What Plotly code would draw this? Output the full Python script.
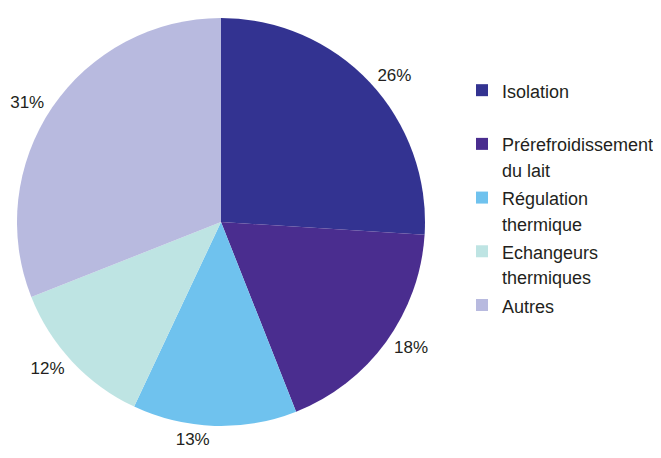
import plotly.graph_objects as go

labels = ["Isolation", "Prérefroidissement\ndu lait", "Régulation\nthermique",
          "Echangeurs\nthermiques", "Autres"]
values = [26, 18, 13, 12, 31]
colors = ["#333391", "#4A2D8F", "#6FC2EE", "#BEE4E3", "#B8BADF"]

W, H = 661, 458
OFF = 8  # page body margin in the browser
cx, cy, r = 221 - OFF, 222 - OFF, 204
r_text = 208  # radius of the invisible pie carrying the percentage labels

legend_font = 18
legend_line = 19.5  # controls line height / item pitch


def legend_label(s):
    lines = s.split("\n")
    if len(lines) == 1:
        lines.append(" ")
    return "<br>".join(f"<span style='font-size:{legend_font}px'>{ln}</span>" for ln in lines)


def dom(rad):
    return dict(x=[max(0, (cx - rad) / W), min(1, (cx + rad) / W)],
                y=[max(0, (H - cy - rad) / H), min(1, (H - cy + rad) / H)])


leg_labels = [legend_label(s) for s in labels]

fig = go.Figure()
fig.add_trace(go.Pie(
    labels=leg_labels,
    values=values,
    sort=False,
    direction="clockwise",
    rotation=0,
    marker=dict(colors=colors, line=dict(width=0)),
    textinfo="none",
    domain=dom(r),
    automargin=False,
    hoverinfo="value",
))
fig.add_trace(go.Pie(
    labels=leg_labels,
    values=values,
    sort=False,
    direction="clockwise",
    rotation=0,
    marker=dict(colors=["rgba(0,0,0,0)"] * len(values), line=dict(width=0)),
    texttemplate="%{value}%",
    textposition="outside",
    outsidetextfont=dict(size=17, color="#231F20"),
    domain=dom(r_text),
    automargin=False,
    showlegend=False,
    hoverinfo="skip",
))

fig.update_layout(
    width=W, height=H,
    margin=dict(l=0, r=0, t=0, b=0),
    paper_bgcolor="white",
    font=dict(family="Liberation Sans, Arial, sans-serif", color="#231F20"),
    showlegend=True,
    legend=dict(
        x=(502 - OFF - 40) / W, y=1 - (90 - OFF - 19) / H, xanchor="left", yanchor="top",
        font=dict(size=legend_line, color="#231F20"),
        valign="top",
        bgcolor="rgba(0,0,0,0)",
    ),
)

fig.write_html("out.html")
